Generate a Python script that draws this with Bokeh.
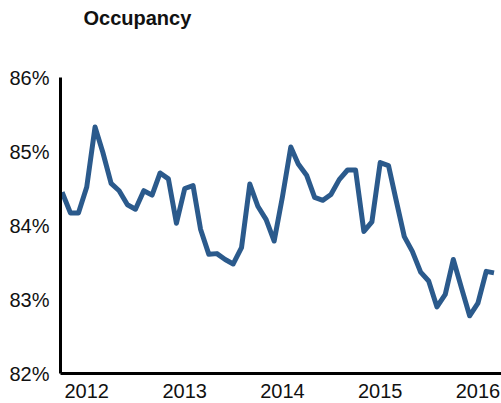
import pandas as pd
from bokeh.plotting import figure
from bokeh.models import Range1d, FixedTicker, PrintfTickFormatter, DatetimeTickFormatter, Title
from bokeh.embed import file_html
from bokeh.resources import INLINE

# Monthly occupancy, Oct 2011 .. Mar 2016
months = pd.date_range("2011-10-01", periods=54, freq="MS")
occupancy = [
    84.45, 84.17, 84.17,                                                       # Oct-Dec 2011
    84.52, 85.33, 84.99, 84.57, 84.47, 84.28, 84.22, 84.47, 84.41, 84.71, 84.63, 84.03,  # 2012
    84.50, 84.54, 83.95, 83.61, 83.62, 83.54, 83.48, 83.70, 84.56, 84.26, 84.08, 83.79,  # 2013
    84.39, 85.06, 84.83, 84.68, 84.38, 84.34, 84.42, 84.62, 84.75, 84.75, 83.92, 84.05,  # 2014
    84.85, 84.81, 84.35, 83.85, 83.65, 83.37, 83.25, 82.90, 83.07, 83.54, 83.15, 82.78,  # 2015
    82.95, 83.38, 83.36,                                                       # Jan-Mar 2016
]
year_ticks = ["2012-01-01", "2013-01-01", "2014-01-01", "2015-01-01", "2016-01-01"]
y_ticks = [82, 83, 84, 85, 86]
title_text = "Occupancy"

FONT = "Liberation Sans"

x_start = pd.Timestamp("2011-09-25")
x_end = pd.Timestamp("2016-03-29")

p = figure(
    width=501, height=403,
    x_axis_type="datetime",
    x_range=Range1d(x_start, x_end),
    y_range=Range1d(82, 86),
    output_backend="svg",
    toolbar_location=None,
    min_border_left=60, min_border_right=0,
    min_border_top=75, min_border_bottom=30,
)
p.outline_line_color = None
p.xgrid.visible = False
p.ygrid.visible = False

p.line(months, occupancy, line_color="#2b5a8c", line_width=5, line_join="round")

# empty spacer panel between the frame and the title
spacer = Title(text=" ", text_font=FONT, text_font_size="20px", standoff=21)
p.add_layout(spacer, "above")

p.title.text = title_text
p.title.text_font = FONT
p.title.text_font_size = "20px"
p.title.text_font_style = "bold"
p.title.text_color = "#111111"
p.title.align = "left"
p.title.offset = 23
p.title.standoff = 8

tick_ms = [pd.Timestamp(t).value // 10**6 for t in year_ticks]
p.xaxis.ticker = FixedTicker(ticks=tick_ms)
p.xaxis.formatter = DatetimeTickFormatter(
    years="%Y", months="%Y", days="%Y", hours="%Y", minutes="%Y",
    seconds="%Y", milliseconds="%Y", microseconds="%Y",
)
p.yaxis.ticker = FixedTicker(ticks=y_ticks)
p.yaxis.formatter = PrintfTickFormatter(format="%d%%")

for ax in (p.xaxis, p.yaxis):
    ax.axis_line_width = 3
    ax.axis_line_color = "black"
    ax.major_tick_line_color = None
    ax.minor_tick_line_color = None
    ax.major_label_text_font = FONT
    ax.major_label_text_font_size = "20px"
    ax.major_label_text_color = "#111111"
p.xaxis.major_label_standoff = 4
p.yaxis.major_label_standoff = 5

open("out.html", "w").write(file_html(p, INLINE))
